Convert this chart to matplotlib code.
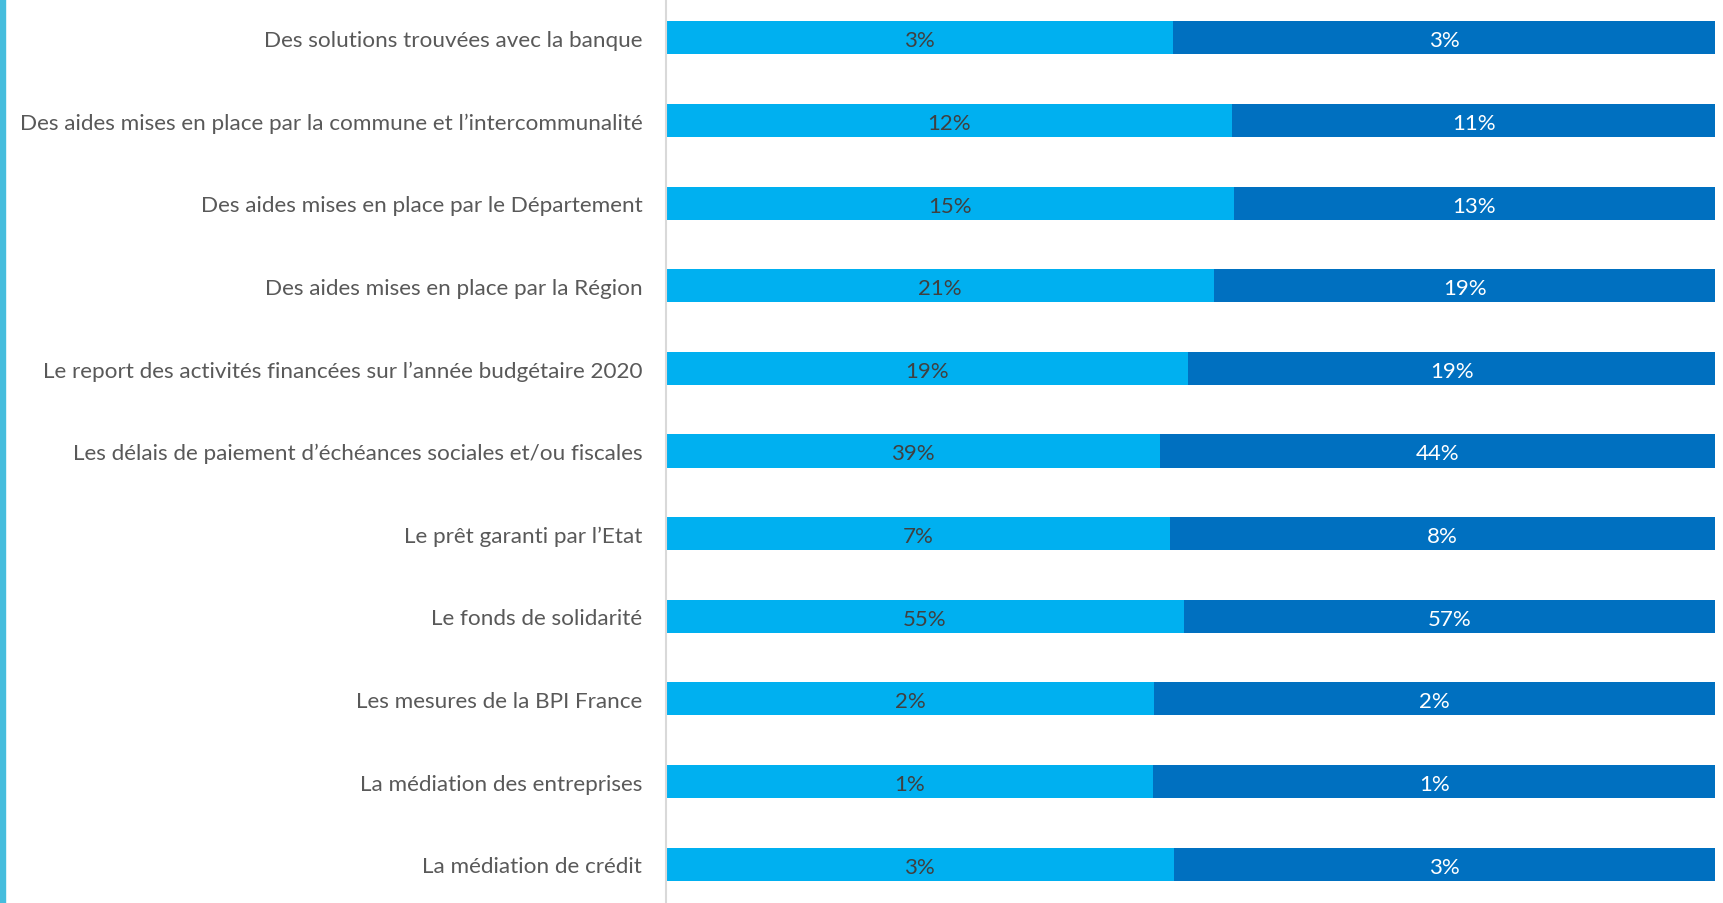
import matplotlib.pyplot as plt
from matplotlib.patches import Rectangle

categories = [
    "Des solutions trouvées avec la banque",
    "Des aides mises en place par la commune et l\u2019intercommunalité",
    "Des aides mises en place par le Département",
    "Des aides mises en place par la Région",
    "Le report des activités financées sur l\u2019année budgétaire 2020",
    "Les délais de paiement d\u2019échéances sociales et/ou fiscales",
    "Le prêt garanti par l\u2019Etat",
    "Le fonds de solidarité",
    "Les mesures de la BPI France",
    "La médiation des entreprises",
    "La médiation de crédit",
]
# two series, shown as shares of each row (100% stacked)
serie_1 = [2.8, 12.4, 15.2, 21.0, 19.0, 39.0, 7.3, 55.4, 1.8, 0.9, 3.0]
serie_2 = [3.0, 10.6, 12.9, 19.2, 19.2, 43.8, 7.9, 56.8, 2.07, 1.04, 3.2]

light = "#00B0F0"
dark = "#0070C0"

plt.rcParams['font.family'] = ['Lato', 'DejaVu Sans']

fig = plt.figure(figsize=(17.24, 9.04), dpi=100)
ax = fig.add_axes([0.3863, 0.0, 0.6087, 1.0])

n = len(categories)
y = list(range(n))
tot = [a + b for a, b in zip(serie_1, serie_2)]
s1 = [a / t for a, t in zip(serie_1, tot)]
s2 = [b / t for b, t in zip(serie_2, tot)]

ax.barh(y, s1, height=0.40, color=light)
ax.barh(y, s2, left=s1, height=0.40, color=dark)

for i in range(n):
    ax.text(s1[i] / 2, y[i] + 0.03, f"{serie_1[i]:.0f}%", ha="center", va="center",
            fontsize=16, color="#404040")
    ax.text(s1[i] + s2[i] / 2, y[i] + 0.03, f"{serie_2[i]:.0f}%", ha="center", va="center",
            fontsize=16, color="white")

ax.set_xlim(0, 1)
ax.set_ylim(n - 1 + 0.47, -0.47)
ax.set_yticks(y)
ax.set_yticklabels(categories, fontsize=16.2, color="#595959")
ax.tick_params(axis="y", length=0, pad=17)
ax.set_xticks([])
for s in ["top", "right", "bottom"]:
    ax.spines[s].set_visible(False)
ax.spines["left"].set_color("#D9D9D9")
ax.spines["left"].set_linewidth(1.5)

# cyan stripe at the left edge
fig.patches.append(Rectangle((0, 0), 5 / 1724, 1, transform=fig.transFigure,
                             color="#45BDDD", zorder=0))

fig.savefig("out.png", dpi=100)
